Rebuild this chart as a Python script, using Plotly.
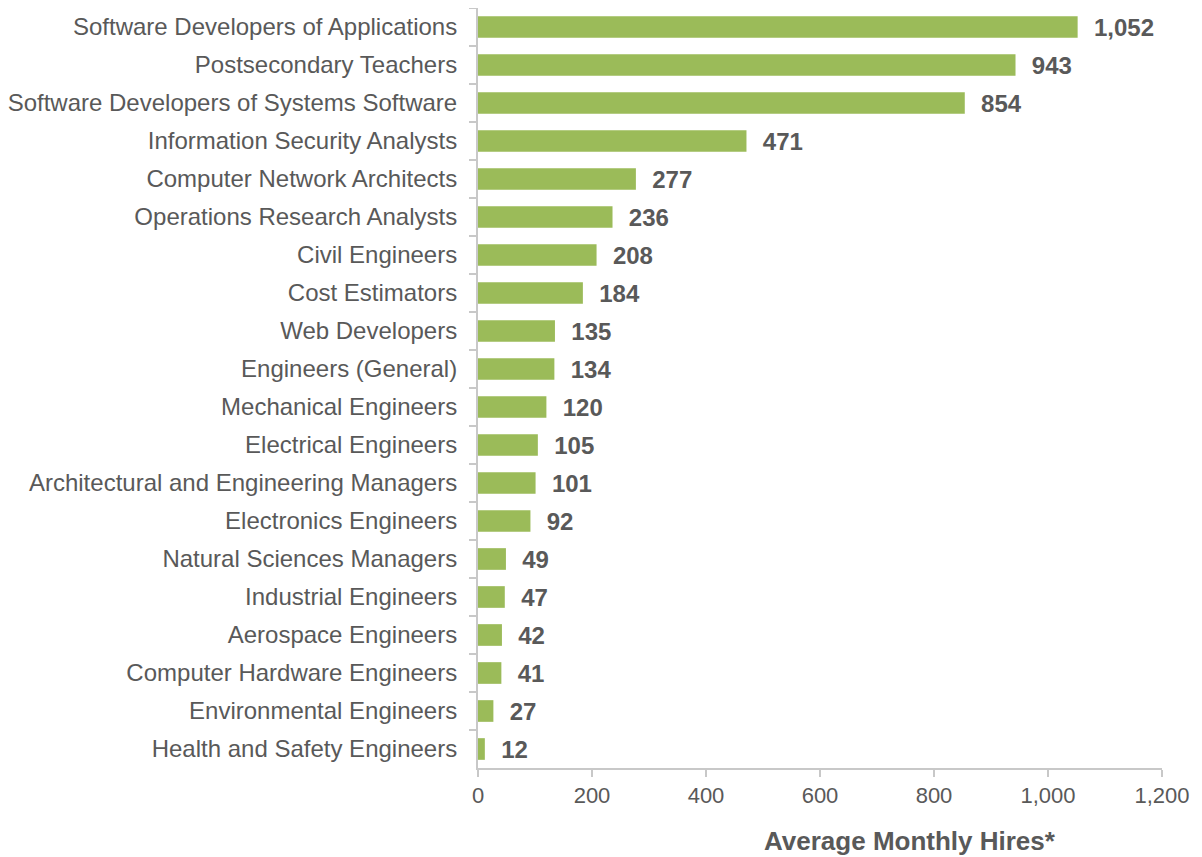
import plotly.graph_objects as go

occupations = [
    "Software Developers of Applications",
    "Postsecondary Teachers",
    "Software Developers of Systems Software",
    "Information Security Analysts",
    "Computer Network Architects",
    "Operations Research Analysts",
    "Civil Engineers",
    "Cost Estimators",
    "Web Developers",
    "Engineers (General)",
    "Mechanical Engineers",
    "Electrical Engineers",
    "Architectural and Engineering Managers",
    "Electronics Engineers",
    "Natural Sciences Managers",
    "Industrial Engineers",
    "Aerospace Engineers",
    "Computer Hardware Engineers",
    "Environmental Engineers",
    "Health and Safety Engineers",
]
hires = [1052, 943, 854, 471, 277, 236, 208, 184, 135, 134,
         120, 105, 101, 92, 49, 47, 42, 41, 27, 12]

grey = "#595959"
axis_grey = "#C8C8C8"
font_family = "Liberation Sans, Arial"

fig = go.Figure(go.Bar(
    x=hires,
    y=occupations,
    orientation="h",
    marker=dict(color="#9BBB59", line=dict(width=0)),
    width=0.57,
    text=[f"  {v:,}" for v in hires],
    textposition="outside",
    constraintext="none",
    textfont=dict(family=font_family, size=24, color=grey, weight="bold"),
    cliponaxis=False,
))

# page body adds an 8px offset, so the figure is sized a little smaller
fig.update_layout(
    width=1194, height=849,
    margin=dict(l=470, r=40, t=0, b=89),
    paper_bgcolor="white", plot_bgcolor="white",
    font=dict(family=font_family, size=22, color=grey),
    showlegend=False,
    uniformtext=dict(mode=False),
    xaxis=dict(
        range=[0, 1200], dtick=200, tickformat=",",
        showgrid=False, zeroline=False,
        showline=True, linecolor=axis_grey, linewidth=2,
        ticks="outside", ticklen=7, tickcolor=axis_grey, tickwidth=2,
        tickfont=dict(size=22, color=grey),
    ),
    yaxis=dict(
        autorange="reversed",
        showgrid=False, zeroline=False,
        showline=True, linecolor=axis_grey, linewidth=2,
        ticks="outside", ticklen=7, tickcolor=axis_grey, tickwidth=2,
        tickson="boundaries",
        ticklabelstandoff=14,
        tickfont=dict(size=24, color=grey),
    ),
    annotations=[dict(
        text="<b>Average Monthly Hires*</b>",
        xref="paper", yref="paper", x=0.632, y=-0.074,
        xanchor="center", yanchor="top", showarrow=False,
        font=dict(size=26, color=grey),
    )],
)

fig.write_html("out.html")
